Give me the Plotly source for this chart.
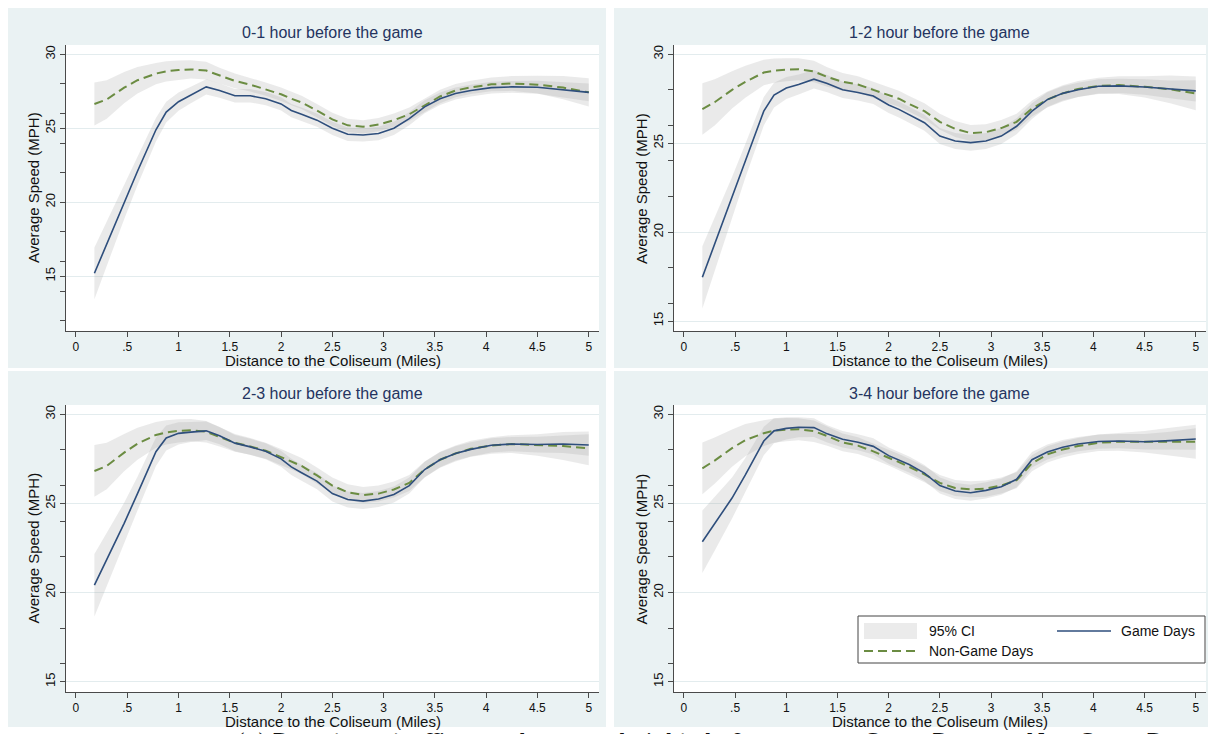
import plotly.graph_objects as go

# page offset of the plot div (browser body margin) is compensated below
OFF = 8
W, H = 1217 - OFF, 734 - OFF

# ---------------- data ----------------
distance = [0.18, 0.3, 0.47, 0.6, 0.78, 0.88, 1.0, 1.12, 1.27, 1.4, 1.55, 1.7, 1.85, 2.0, 2.1, 2.2,
            2.35, 2.5, 2.65, 2.8, 2.95, 3.1, 3.25, 3.4, 3.55, 3.7, 3.85, 4.05, 4.25, 4.5, 4.75, 5.0]

panel_titles = ["0-1 hour before the game", "1-2 hour before the game",
                "2-3 hour before the game", "3-4 hour before the game"]

game_0_1 = [15.2, 17.2, 20.0, 22.1, 24.9, 26.1, 26.8, 27.25, 27.8, 27.55, 27.2, 27.2, 27.0, 26.65, 26.2, 25.95,
            25.55, 25.0, 24.6, 24.55, 24.65, 25.0, 25.65, 26.45, 27.0, 27.35, 27.55, 27.75, 27.8, 27.77, 27.6, 27.43]
nongame_0_1 = [26.64, 26.95, 27.75, 28.25, 28.7, 28.85, 28.94, 28.98, 28.9, 28.55, 28.2, 27.95, 27.65, 27.3, 27.0, 26.75,
               26.2, 25.6, 25.2, 25.1, 25.25, 25.55, 25.95, 26.55, 27.15, 27.55, 27.77, 27.97, 28.03, 27.95, 27.75, 27.43]

game_1_2 = [17.46, 19.3, 21.95, 24.0, 26.8, 27.7, 28.1, 28.3, 28.6, 28.35, 28.0, 27.85, 27.65, 27.15, 26.9, 26.6,
            26.15, 25.4, 25.12, 25.03, 25.12, 25.4, 25.95, 26.8, 27.45, 27.8, 28.0, 28.2, 28.22, 28.16, 28.03, 27.94]
nongame_1_2 = [26.92, 27.3, 28.0, 28.45, 28.97, 29.08, 29.13, 29.16, 29.03, 28.72, 28.45, 28.3, 28.0, 27.7, 27.5, 27.2,
               26.8, 26.2, 25.8, 25.57, 25.62, 25.85, 26.2, 26.95, 27.45, 27.8, 28.05, 28.22, 28.27, 28.17, 28.03, 27.8]

game_2_3 = [20.41, 21.85, 23.88, 25.55, 27.9, 28.67, 28.93, 29.0, 29.07, 28.8, 28.38, 28.17, 27.92, 27.5, 27.05, 26.72,
            26.25, 25.55, 25.22, 25.13, 25.25, 25.5, 26.0, 26.9, 27.45, 27.8, 28.03, 28.26, 28.33, 28.3, 28.33, 28.28]
nongame_2_3 = [26.82, 27.1, 27.85, 28.35, 28.84, 28.98, 29.07, 29.11, 29.02, 28.74, 28.4, 28.2, 27.95, 27.6, 27.35, 27.1,
               26.57, 26.0, 25.62, 25.47, 25.55, 25.78, 26.15, 26.9, 27.45, 27.8, 28.06, 28.25, 28.33, 28.28, 28.22, 28.09]

game_3_4 = [22.85, 23.85, 25.3, 26.6, 28.5, 29.07, 29.21, 29.27, 29.25, 28.9, 28.6, 28.43, 28.2, 27.68, 27.42, 27.18,
            26.7, 26.0, 25.7, 25.6, 25.73, 25.93, 26.35, 27.45, 27.88, 28.15, 28.33, 28.47, 28.5, 28.46, 28.52, 28.61]
nongame_3_4 = [26.97, 27.4, 28.1, 28.55, 28.94, 29.08, 29.14, 29.16, 29.05, 28.78, 28.42, 28.24, 27.92, 27.58, 27.32, 27.05,
               26.63, 26.15, 25.86, 25.79, 25.83, 26.0, 26.3, 27.25, 27.75, 28.02, 28.22, 28.4, 28.46, 28.46, 28.46, 28.46]

# 95% CI half-widths
game_ci_hw = [1.75, 1.5, 1.15, 0.95, 0.8, 0.7, 0.62, 0.56, 0.52, 0.48, 0.46, 0.45, 0.45, 0.45, 0.45, 0.45,
              0.45, 0.45, 0.45, 0.45, 0.45, 0.45, 0.45, 0.44, 0.42, 0.4, 0.4, 0.4, 0.4, 0.44, 0.5, 0.6]
nongame_ci_hw = [1.45, 1.3, 1.05, 0.9, 0.72, 0.68, 0.65, 0.62, 0.6, 0.55, 0.5, 0.47, 0.45, 0.45, 0.45, 0.45,
                 0.45, 0.45, 0.45, 0.45, 0.45, 0.45, 0.45, 0.45, 0.45, 0.45, 0.45, 0.46, 0.5, 0.6, 0.78, 0.95]

game_series = [game_0_1, game_1_2, game_2_3, game_3_4]
nongame_series = [nongame_0_1, nongame_1_2, nongame_2_3, nongame_3_4]

x_ticks = [0, 0.5, 1, 1.5, 2, 2.5, 3, 3.5, 4, 4.5, 5]
x_ticktext = ["0", ".5", "1", "1.5", "2", "2.5", "3", "3.5", "4", "4.5", "5"]
y_ticks = [15, 20, 25, 30]
y_minor_ticks = [12, 14, 16, 18, 22, 24, 26, 28]
y_ranges = [[11.3, 30.63], [14.44, 30.52], [14.42, 30.52], [14.42, 30.52]]

legend_labels = ["95% CI", "Game Days", "Non-Game Days"]
x_title = "Distance to the Coliseum (Miles)"
y_title = "Average Speed (MPH)"
caption = "(a) Downtown traffic speeds on weeknights before games: Game Days vs. Non-Game Days"

# ---------------- styling ----------------
FONT = "Liberation Sans, Arial, sans-serif"
BG = "#EAF2F3"
GAME_COLOR = "#2E4E7C"
NONGAME_COLOR = "#6B8C42"
BAND_COLOR = "rgba(160,160,160,0.22)"
AXIS_COLOR = "#4A4A4A"
TITLE_COLOR = "#243460"


def px(x):
    return (x - OFF) / W


def py(y):
    return 1 - (y - OFF) / H


# plot-area pixel boxes in screen pixels: (left, top, right, bottom)
boxes = [(66, 45, 599, 331), (674, 45, 1206, 331), (66, 405, 599, 692), (674, 405, 1206, 692)]
bg_boxes = [(6, 7, 606, 368), (614, 7, 1208, 368), (6, 371, 606, 727), (614, 371, 1208, 727)]

fig = go.Figure()
layout = dict(width=W, height=H, margin=dict(l=0, r=0, t=0, b=0), paper_bgcolor="white",
              plot_bgcolor="rgba(0,0,0,0)", showlegend=False, font=dict(family=FONT, color="#111"))
shapes = []
annotations = []

for bx in bg_boxes:
    shapes.append(dict(type="rect", xref="paper", yref="paper", x0=px(bx[0]), x1=px(bx[2]),
                       y0=py(bx[3]), y1=py(bx[1]), fillcolor=BG, line=dict(width=0), layer="below"))
for b in boxes:
    shapes.append(dict(type="rect", xref="paper", yref="paper", x0=px(b[0]), x1=px(b[2]),
                       y0=py(b[3]), y1=py(b[1]), fillcolor="white", line=dict(width=0), layer="below"))

for i in range(4):
    n = i + 1
    xa = "x" if n == 1 else f"x{n}"
    ya = "y" if n == 1 else f"y{n}"
    g = game_series[i]
    ng = nongame_series[i]
    # CI bands
    for series, hw in ((ng, nongame_ci_hw), (g, game_ci_hw)):
        up = [v + h for v, h in zip(series, hw)]
        lo = [v - h for v, h in zip(series, hw)]
        fig.add_trace(go.Scatter(x=distance + distance[::-1], y=up + lo[::-1], fill="toself",
                                 fillcolor=BAND_COLOR, line=dict(width=0), mode="lines",
                                 hoverinfo="skip", xaxis=xa, yaxis=ya, name=legend_labels[0]))
    fig.add_trace(go.Scatter(x=distance, y=ng, mode="lines", name=legend_labels[2],
                             line=dict(color=NONGAME_COLOR, width=2, dash="9px,5px"), xaxis=xa, yaxis=ya))
    fig.add_trace(go.Scatter(x=distance, y=g, mode="lines", name=legend_labels[1],
                             line=dict(color=GAME_COLOR, width=1.6), xaxis=xa, yaxis=ya))

    b = boxes[i]
    xkey = "xaxis" if n == 1 else f"xaxis{n}"
    ykey = "yaxis" if n == 1 else f"yaxis{n}"
    layout[xkey] = dict(domain=[px(b[0]), px(b[2])], anchor=ya, range=[-0.097, 5.1],
                        tickmode="array", tickvals=x_ticks, ticktext=x_ticktext,
                        showline=True, linecolor=AXIS_COLOR, linewidth=1, ticks="outside", ticklen=5,
                        tickcolor=AXIS_COLOR, showgrid=False, zeroline=False,
                        tickfont=dict(family=FONT, size=12, color="#111"))
    layout[ykey] = dict(domain=[py(b[3]), py(b[1])], anchor=xa, range=y_ranges[i],
                        tickmode="array", tickvals=y_ticks, ticktext=[str(v) for v in y_ticks],
                        tickangle=-90, showline=True, linecolor=AXIS_COLOR, linewidth=1,
                        ticks="outside", ticklen=5, tickcolor=AXIS_COLOR,
                        showgrid=True, gridcolor="#E3ECEE", gridwidth=1, zeroline=False,
                        minor=dict(tickvals=y_minor_ticks, ticks="outside", ticklen=5,
                                   tickcolor=AXIS_COLOR, showgrid=False),
                        tickfont=dict(family=FONT, size=13, color="#111"))
    cx = (b[0] + b[2]) / 2
    cy = (b[1] + b[3]) / 2
    annotations.append(dict(text=panel_titles[i], xref="paper", yref="paper", x=px(cx), y=py(b[1] - 12),
                            xanchor="center", yanchor="middle", showarrow=False,
                            font=dict(family=FONT, size=16, color=TITLE_COLOR)))
    annotations.append(dict(text=x_title, xref="paper", yref="paper", x=px(cx), y=py(b[3] + 29.7),
                            xanchor="center", yanchor="middle", showarrow=False,
                            font=dict(family=FONT, size=15, color="#111")))
    annotations.append(dict(text=y_title, xref="paper", yref="paper", x=px(b[0] - 33), y=py(cy),
                            xanchor="center", yanchor="middle", showarrow=False, textangle=-90,
                            font=dict(family=FONT, size=15, color="#111")))

# legend (drawn by hand inside the bottom-right panel, as in the original)
shapes.append(dict(type="rect", xref="paper", yref="paper", x0=px(858), x1=px(1205), y0=py(663), y1=py(616),
                   fillcolor="white", line=dict(color="#444", width=1), layer="above"))
shapes.append(dict(type="rect", xref="paper", yref="paper", x0=px(864), x1=px(917), y0=py(639), y1=py(623),
                   fillcolor="#EBEBEB", line=dict(width=0), layer="above"))
shapes.append(dict(type="line", xref="paper", yref="paper", x0=px(1057), x1=px(1111), y0=py(631), y1=py(631),
                   line=dict(color=GAME_COLOR, width=1.6), layer="above"))
shapes.append(dict(type="line", xref="paper", yref="paper", x0=px(864), x1=px(917), y0=py(651), y1=py(651),
                   line=dict(color=NONGAME_COLOR, width=2, dash="9px,5px"), layer="above"))
for text, lx, ly in ((legend_labels[0], 927, 631), (legend_labels[1], 1119, 631), (legend_labels[2], 927, 651)):
    annotations.append(dict(text=text, xref="paper", yref="paper", x=px(lx), y=py(ly), xanchor="left",
                            yanchor="middle", showarrow=False, font=dict(family=FONT, size=14, color="#111")))

# caption (cut off at the bottom of the image, as in the original)
annotations.append(dict(text=caption, xref="paper", yref="paper", x=px(718), y=py(727), xanchor="center",
                        yanchor="top", showarrow=False,
                        font=dict(family="DejaVu Serif, serif", size=21, color="#111")))

layout["shapes"] = shapes
layout["annotations"] = annotations
fig.update_layout(**layout)

fig.write_html("out.html")
